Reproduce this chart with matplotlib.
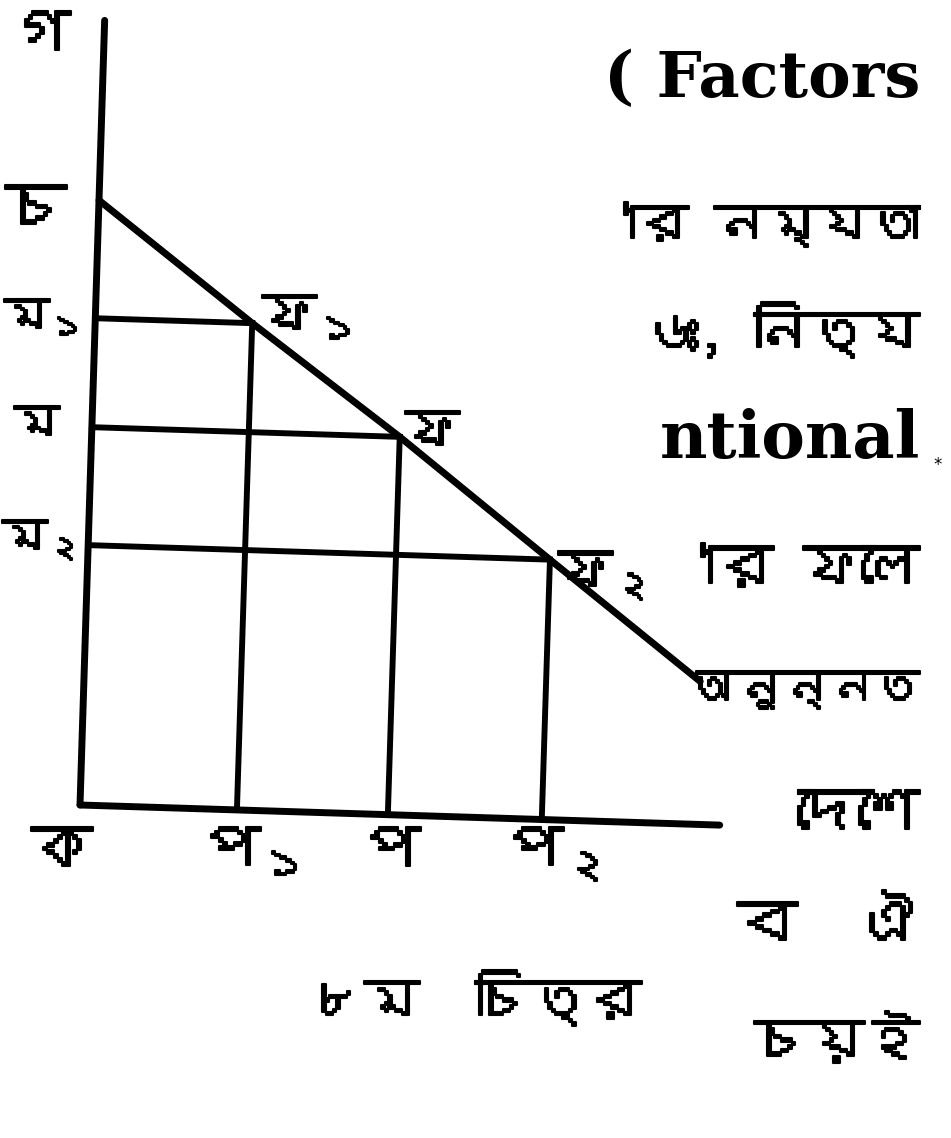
import matplotlib
matplotlib.use("Agg")
import matplotlib.pyplot as plt
import matplotlib.patheffects as pe
from matplotlib import font_manager
from matplotlib.transforms import Affine2D
from matplotlib.ft2font import FT2Font

# pick a font that can draw Bengali
bn_font = "DejaVu Sans"
for f in font_manager.fontManager.ttflist:
    try:
        if ord("ক") in FT2Font(f.fname).get_charmap():
            bn_font = f.name
            break
    except Exception:
        pass

# subscripts are done with mathtext, so it needs the same font
plt.rcParams["mathtext.fontset"] = "custom"
plt.rcParams["mathtext.rm"] = bn_font
plt.rcParams["mathtext.it"] = bn_font

# demand line and the three price/quantity pairs
demand_q = [0, 157, 308, 462, 616]
demand_p = [605, 487, 378, 260, 143]
quantities = [157, 308, 462]
prices = [487, 378, 260]
axis_len_x = 640
axis_len_y = 785

q_labels = [r"প$_\mathrm{১}$", "প", r"প$_\mathrm{২}$"]
p_labels = [r"ম$_\mathrm{১}$", "ম", r"ম$_\mathrm{২}$"]
pt_labels = [r"ফ$_\mathrm{১}$", "ফ", r"ফ$_\mathrm{২}$"]

side_text = ["( Factors", "'ার নম্যতা", "৬ঃ, নিত্য", "ntional", "'ার ফলে",
             "অনুন্নত", "দেশে", "ব  ঐ", "চয়ই"]
side_y = [80, 225, 330, 440, 570, 690, 815, 925, 1040]
side_size = [46, 37, 40, 47, 42, 33, 44, 44, 40]

W, H = 951, 1138
fig = plt.figure(figsize=(W / 100, H / 100), dpi=100)
ax = fig.add_axes([0, 0, 1, 1])
ax.set_xlim(0, W)
ax.set_ylim(H, 0)
ax.axis("off")

# diagram drawn in its own frame, origin at ক, slightly rotated
ox, oy = 80, 805
tr = Affine2D().scale(1, -1).rotate_deg(1.8).translate(ox, oy) + ax.transData

lw = 5
ax.plot([0, 0], [0, axis_len_y], color="black", lw=lw, transform=tr, solid_capstyle="round")
ax.plot([0, axis_len_x], [0, 0], color="black", lw=lw, transform=tr, solid_capstyle="round")
ax.plot(demand_q, demand_p, color="black", lw=lw, transform=tr, solid_capstyle="round")
for q, p in zip(quantities, prices):
    ax.plot([0, q], [p, p], color="black", lw=lw * 0.85, transform=tr)
    ax.plot([q, q], [0, p], color="black", lw=lw * 0.85, transform=tr)

thick = [pe.withStroke(linewidth=1.5, foreground="black")]
bn = dict(family=[bn_font, "DejaVu Sans"], color="black", path_effects=thick)
fs = 44

# axis end labels
ax.text(40, 36, "গ", fontsize=fs, ha="center", va="center", **bn)
ax.text(36, 210, "চ", fontsize=fs, ha="center", va="center", **bn)
ax.text(62, 852, "ক", fontsize=fs, ha="center", va="center", **bn)

label_y_pos = [(4, 318), (14, 425), (2, 540)]
for (x, y), s in zip(label_y_pos, p_labels):
    ax.text(x, y, s, fontsize=fs * 0.75, ha="left", va="center", **bn)

label_x_pos = [(200, 852), (360, 852), (503, 854)]
for (x, y), s in zip(label_x_pos, q_labels):
    ax.text(x, y, s, fontsize=fs, ha="left", va="center", **bn)

label_pt_pos = [(262, 318), (405, 433), (558, 576)]
for (x, y), s in zip(label_pt_pos, pt_labels):
    ax.text(x, y, s, fontsize=fs * 0.9, ha="left", va="center", **bn)

ax.text(475, 998, "৮ম  চিত্র", fontsize=40, ha="center", va="center", **bn)

# column of running text on the right
for s, y, size in zip(side_text, side_y, side_size):
    if s[0].isascii() and s[-1].isascii():
        ax.text(920, y, s, fontsize=size, ha="right", va="center",
                family="DejaVu Serif", fontweight="bold", color="black")
    else:
        ax.text(920, y, s, fontsize=size, ha="right", va="center", **bn)
ax.text(938, 465, "*", fontsize=12, ha="center", va="center", color="black")

fig.savefig("out.png", dpi=100)
